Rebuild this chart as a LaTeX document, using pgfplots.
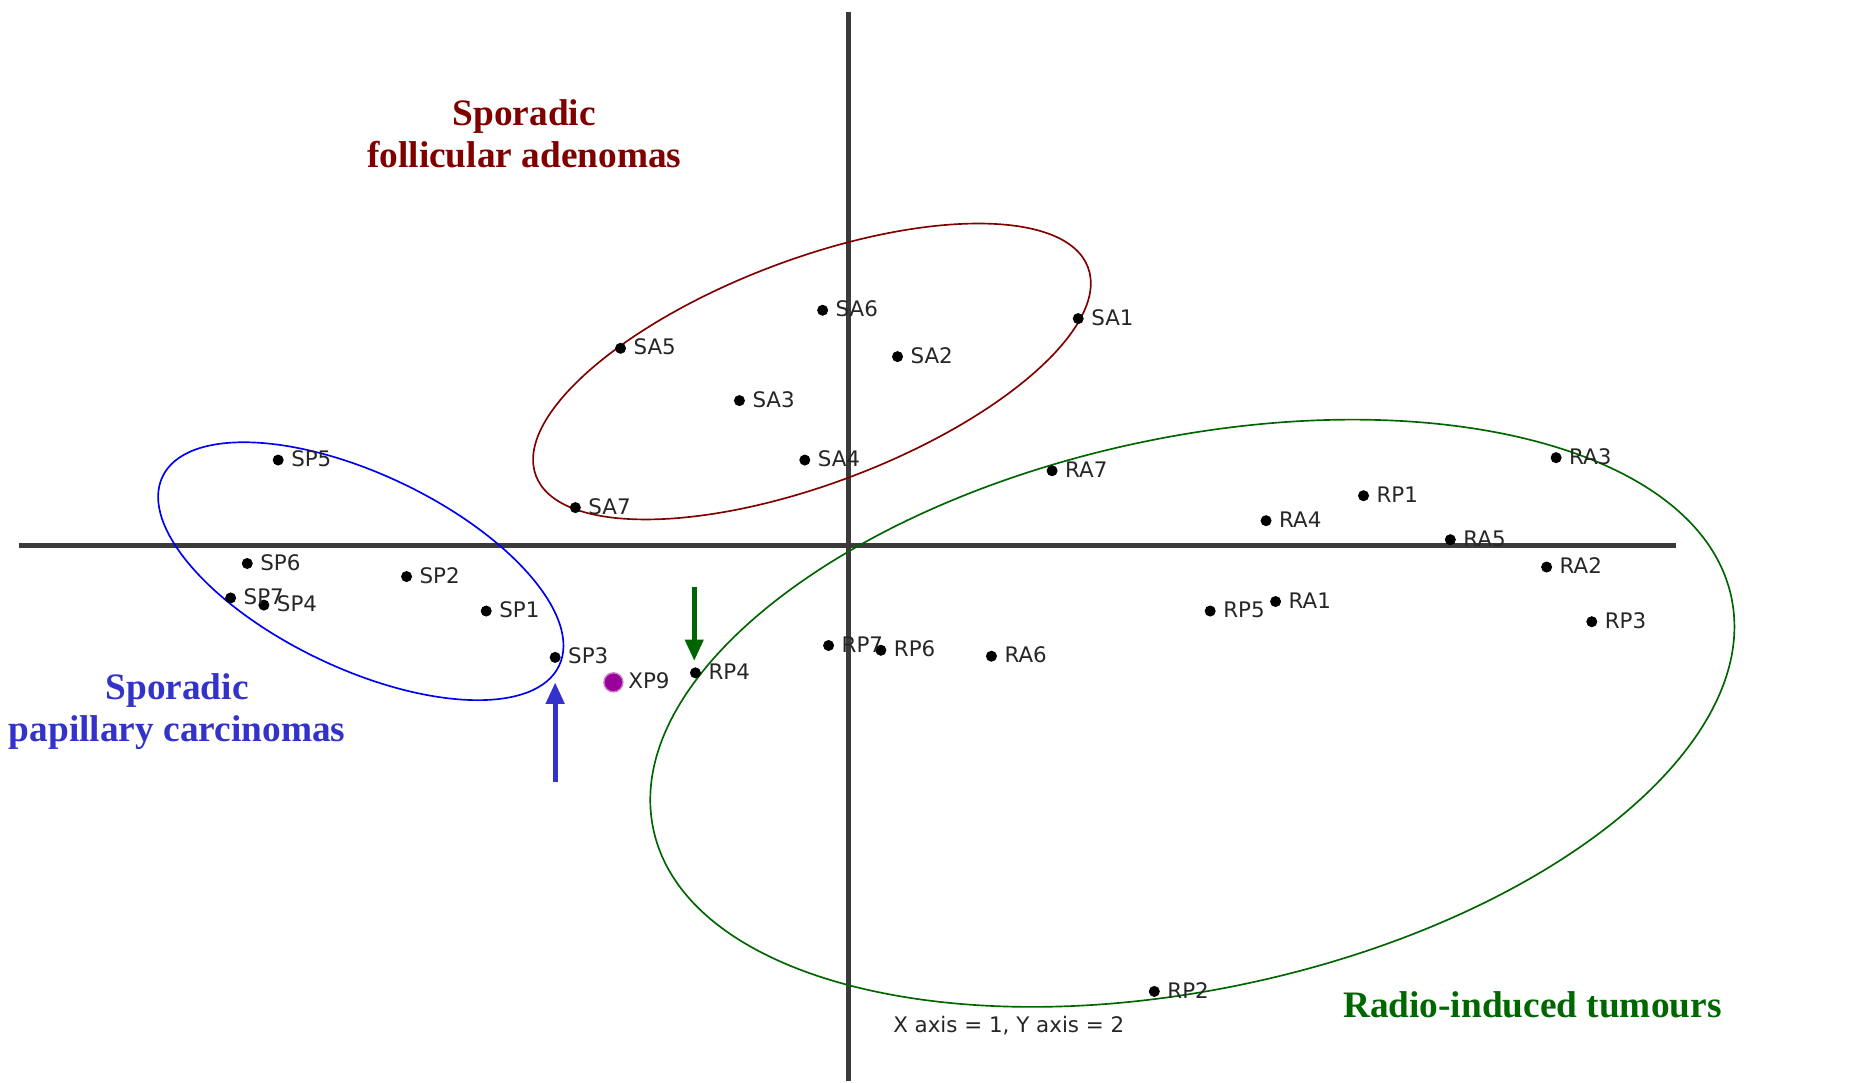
\documentclass[border=0pt]{standalone}
\usepackage{pgfplots}
\pgfplotsset{compat=1.18}
\usepackage{pgfplotstable}
\usepackage{fontspec}
\setmainfont{Liberation Serif}
\newfontfamily\labelfont{DejaVu Sans}
\usetikzlibrary{arrows.meta}
\definecolor{redgrp}{HTML}{800000}
\definecolor{bluegrp}{HTML}{0000F0}
\definecolor{bluetxt}{HTML}{3333CC}
\definecolor{greengrp}{HTML}{006400}
\definecolor{greentxt}{HTML}{006600}
\definecolor{axgray}{HTML}{3A3A3A}
\definecolor{xpfill}{HTML}{990099}
\definecolor{xpdraw}{HTML}{CC77CC}

\pgfplotstableread{
x y label
193 191 SA1
41 159 SA2
-92 122 SA3
-37 72 SA4
-192 166 SA5
-22 198 SA6
-230 32 SA7
-305 -55 SP1
-372 -26 SP2
-247 -94 SP3
-492 -50 SP4
-480 72 SP5
-506 -15 SP6
-520 -44 SP7
433 42 RP1
257 -375 RP2
625 -64 RP3
-129 -107 RP4
304 -55 RP5
27 -88 RP6
-17 -84 RP7
359 -47 RA1
587 -18 RA2
595 74 RA3
351 21 RA4
506 5 RA5
120 -93 RA6
171 63 RA7
}\pts

\pgfplotstableread{
x y label
-198 -115 XP9
}\xp

\begin{document}
\begin{tikzpicture}
\begin{axis}[
  scale only axis, width=784pt, height=454.5pt,
  xmin=-714, xmax=854, ymin=-450, ymax=459,
  hide axis, clip=false,
  every node near coord/.append style={anchor=west, font=\labelfont\fontsize{9}{10}\selectfont, text=black!85, inner sep=0pt, xshift=5.3pt, yshift=0.5pt},
]
\path (rel axis cs:0,0) rectangle (rel axis cs:1,1);
% main axes
\addplot[axgray, line width=2pt] coordinates {(-698,0) (696,0)};
\addplot[axgray, line width=2pt] coordinates {(0,449) (0,-450)};
% ellipses
\draw[redgrp, line width=0.7pt] (axis cs:-31,146.5) circle[x radius=124.1pt, y radius=47.2pt, rotate=20.7];
\draw[bluegrp, line width=0.7pt] (axis cs:-410.5,-21.5) circle[x radius=92.4pt, y radius=40.85pt, rotate=-25.5];
\draw[greengrp, line width=0.7pt] (axis cs:289,-141) circle[x radius=231.9pt, y radius=115.95pt, rotate=12.2];
% points
\addplot[only marks, mark=*, mark size=2.1pt, black, nodes near coords, point meta=explicit symbolic] table[x=x, y=y, meta=label] {\pts};
\addplot[only marks, mark=*, mark size=4pt, mark options={fill=xpfill, draw=xpdraw, line width=0.6pt}, nodes near coords, point meta=explicit symbolic, every node near coord/.append style={xshift=0.7pt}] table[x=x, y=y, meta=label] {\xp};
% arrows
\draw[bluetxt, line width=2pt, -{Triangle[length=9pt, width=7.5pt]}] (axis cs:-247,-199) -- (axis cs:-247,-115);
\draw[greengrp, line width=2pt, -{Triangle[length=9pt, width=7.5pt]}] (axis cs:-130,-35) -- (axis cs:-130,-97);
% texts
\node[align=center, font=\bfseries\fontsize{15.7}{17.5}\selectfont, text=redgrp] at (axis cs:-273,346.5) {Sporadic\\follicular adenomas};
\node[align=center, font=\bfseries\fontsize{15.7}{17.5}\selectfont, text=bluetxt] at (axis cs:-565,-139.5) {Sporadic\\papillary carcinomas};
\node[font=\bfseries\fontsize{15.7}{17.5}\selectfont, text=greentxt] at (axis cs:575,-386) {Radio-induced tumours};
\node[anchor=west, inner sep=0pt, font=\labelfont\fontsize{9}{10}\selectfont, text=black!85] at (axis cs:37,-404) {X axis = 1, Y axis = 2};
\end{axis}
\end{tikzpicture}
\end{document}
